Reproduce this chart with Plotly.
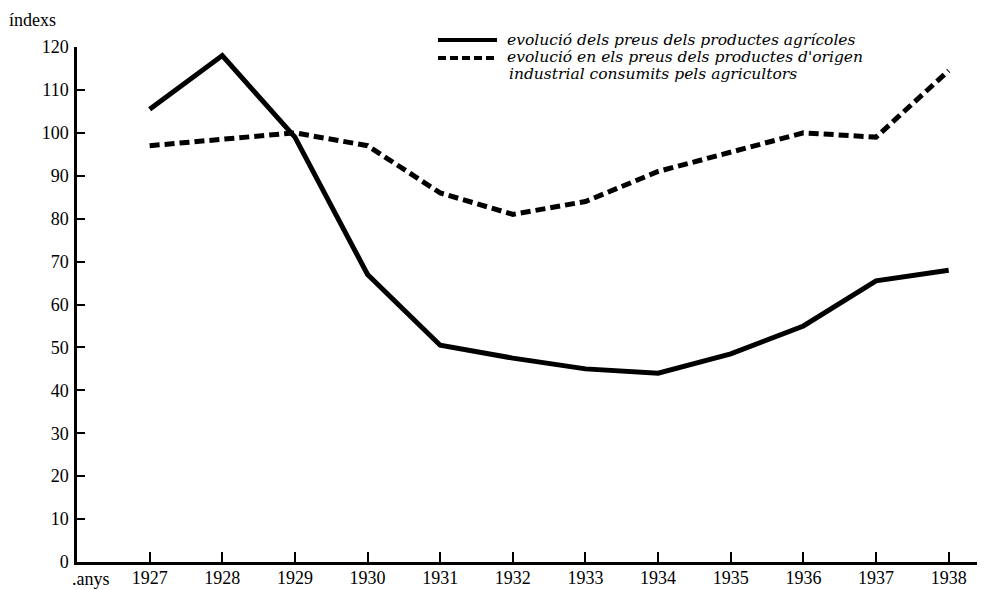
import plotly.graph_objects as go

years = [1927, 1928, 1929, 1930, 1931, 1932, 1933, 1934, 1935, 1936, 1937, 1938]
agricoles = [105.5, 118, 99, 67, 50.5, 47.5, 45, 44, 48.5, 55, 65.5, 68]
industrials = [97, 98.5, 100, 97, 86, 81, 84, 91, 95.5, 100, 99, 114.5]
y_ticks = [0, 10, 20, 30, 40, 50, 60, 70, 80, 90, 100, 110, 120]
legend_lines = [
    "evolució dels preus dels productes agrícoles",
    "evolució en els preus dels productes d'origen",
    "industrial consumits pels agricultors",
]

FONT = "Liberation Serif"
LFONT = "DejaVu Serif"

fig = go.Figure()
fig.add_trace(go.Scatter(x=years, y=agricoles, mode="lines", name=legend_lines[0],
                         line=dict(color="black", width=5)))
fig.add_trace(go.Scatter(x=years, y=industrials, mode="lines",
                         name=legend_lines[1] + " " + legend_lines[2],
                         line=dict(color="black", width=5, dash="10px,5px")))

# hand-drawn style legend (samples + text)
shapes = [
    dict(type="line", xref="paper", yref="paper", x0=0.3976, x1=0.4626, y0=1.0136, y1=1.0136,
         line=dict(color="black", width=4)),
    dict(type="line", xref="paper", yref="paper", x0=0.3976, x1=0.4626, y0=0.9786, y1=0.9786,
         line=dict(color="black", width=4, dash="8px,4px")),
]
annotations = [
    dict(text=legend_lines[0], xref="paper", yref="paper", x=0.4714, y=1.0136,
         xanchor="left", yanchor="middle", showarrow=False,
         font=dict(family=LFONT, size=15.5, style="italic")),
    dict(text=legend_lines[1], xref="paper", yref="paper", x=0.4714, y=0.9806,
         xanchor="left", yanchor="middle", showarrow=False,
         font=dict(family=LFONT, size=15.5, style="italic")),
    dict(text=legend_lines[2], xref="paper", yref="paper", x=0.4736, y=0.9476,
         xanchor="left", yanchor="middle", showarrow=False,
         font=dict(family=LFONT, size=15.5, style="italic")),
    dict(text="índexs", xref="paper", yref="paper", x=-0.077, y=1.052,
         xanchor="left", yanchor="middle", showarrow=False,
         font=dict(family=FONT, size=18)),
    dict(text=".anys", xref="paper", yref="paper", x=0.0154, y=-0.033,
         xanchor="center", yanchor="middle", showarrow=False,
         font=dict(family=FONT, size=18)),
]

fig.update_layout(
    width=977, height=582,
    margin=dict(l=69, r=0, t=39, b=28),
    paper_bgcolor="white", plot_bgcolor="white",
    font=dict(family=FONT, color="black", size=18),
    showlegend=False,
    xaxis=dict(range=[1926, 1938.5], tickvals=years, ticktext=[str(y) for y in years],
               showgrid=False, zeroline=False, showline=True, linecolor="black", linewidth=2.5,
               ticks="inside", ticklen=10, tickwidth=2, tickcolor="black",
               tickfont=dict(family=FONT, size=18), ticklabelstandoff=-2),
    yaxis=dict(range=[0, 120], tickvals=y_ticks, showgrid=False, zeroline=False,
               showline=True, linecolor="black", linewidth=2.5,
               ticks="inside", ticklen=8, tickwidth=2, tickcolor="black",
               tickfont=dict(family=FONT, size=18), ticklabelstandoff=2),
    shapes=shapes,
    annotations=annotations,
)

fig.write_html("out.html")
